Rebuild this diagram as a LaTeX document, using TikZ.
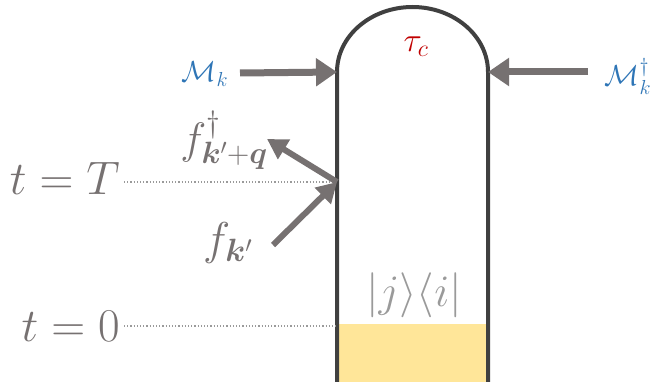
\documentclass[tikz,border=0pt]{standalone}
\usepackage{fix-cm}
\usepackage{amsmath}
\usepackage{bm}
\usetikzlibrary{arrows.meta}
\definecolor{wall}{HTML}{404040}
\definecolor{stone}{HTML}{767171}
\definecolor{mist}{HTML}{9A9A9A}
\definecolor{sand}{HTML}{FFE699}
\definecolor{sky}{HTML}{2E75B6}
\definecolor{brick}{HTML}{C00000}

\begin{document}
\begin{tikzpicture}[x=1pt,y=-1pt,
  pushbar/.style={stone,line width=7pt,-{Triangle[length=21pt,width=27pt]}},
  kickbar/.style={stone,line width=6pt,-{Triangle[length=20pt,width=22pt]}},
  timeline/.style={mist,dotted,line width=1.2pt},
  timelabel/.style={stone,font=\fontsize{47}{54}\selectfont,inner sep=4pt}]
\useasboundingbox (0,0) rectangle (652,382);
% the tube
\fill[sand] (337,324) rectangle (488,382);
\draw[wall,line width=4pt] (337,382) -- (337,72)
  arc[start angle=180,end angle=360,x radius=75.5,y radius=65] -- (488,382);
\coordinate (lTop) at (337,72);
\coordinate (rTop) at (488,72);
\coordinate (hitT) at (337,182);
\coordinate (hitZero) at (337,326);
\coordinate (mkTail) at (240,73);
\coordinate (mkdTail) at (588,72);
\coordinate (fkTail) at (273,245);
\coordinate (fkqTip) at (267,139);
% labels
\node[sky,font=\fontsize{29}{34}\selectfont] (Mk) at (205,74) {$\mathcal{M}_k$};
\node[sky,font=\fontsize{29}{34}\selectfont] (Mkd) at (628,76) {$\mathcal{M}_k^\dagger$};
\node[brick,font=\fontsize{34}{40}\selectfont] (tau) at (416,47) {$\tau_c$};
\node[mist,font=\fontsize{45}{52}\selectfont] (ket) at (414,295) {$\lvert j\rangle\langle i\rvert$};
\node[timelabel,anchor=base east] (tT) at (124,194) {$t=T$};
\node[timelabel,anchor=base east] (tZero) at (124,341) {$t=0$};
\node[stone,font=\fontsize{46}{52}\selectfont] (fk) at (228,243) {$f_{\bm{k}'}$};
\node[stone,font=\fontsize{44}{50}\selectfont] (fkq) at (224,140) {$f^\dagger_{\bm{k}'+\bm{q}}$};
% arrows and time lines
\draw[timeline] (hitT -| tT.east) -- (hitT);
\draw[timeline] (hitZero -| tZero.east) -- (hitZero);
\draw[pushbar] (mkTail) -- (lTop);
\draw[pushbar] (mkdTail) -- (rTop);
\draw[kickbar] (fkTail) -- (hitT);
\draw[kickbar] (hitT) -- (fkqTip);
\end{tikzpicture}
\end{document}
